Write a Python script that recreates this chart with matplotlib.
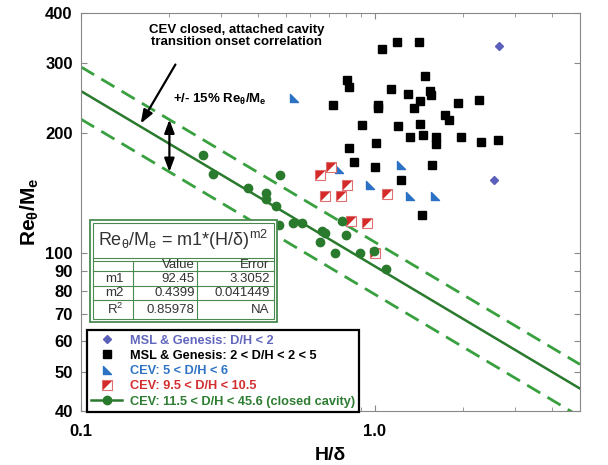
import numpy as np
import matplotlib.pyplot as plt
from matplotlib.lines import Line2D
from matplotlib.path import Path
from matplotlib.patches import Rectangle
from matplotlib.legend_handler import HandlerTuple
from matplotlib.ticker import LogLocator, NullFormatter, NullLocator

plt.rcParams['font.family'] = ['Liberation Sans', 'DejaVu Sans']
plt.rcParams['mathtext.default'] = 'regular'

# --- data ---
msl_lo_x = [2.66, 2.54]
msl_lo_y = [331, 152]

msl_x = [1.19, 1.42, 1.06, 1.48, 0.805, 0.816, 1.14, 1.30, 1.54, 1.56, 1.43, 0.724,
         1.03, 1.03, 1.36, 1.92, 2.26, 1.74, 1.79, 0.908, 1.20, 1.43, 1.46, 1.32,
         1.62, 1.62, 1.96, 2.31, 2.63, 0.816, 1.01, 0.850, 1.00, 1.57, 1.23, 1.45]
msl_y = [339, 339, 324, 277, 272, 261, 258, 250, 254, 249, 241, 235,
         235, 231, 231, 238, 242, 222, 215, 209, 208, 210, 198, 195,
         195, 187, 195, 190, 192, 183, 188, 169, 164, 166, 152, 124]

cev56_x = [0.755, 1.23, 0.962, 1.315, 1.60, 0.530]
cev56_y = [162, 166, 148, 139, 139, 245]

cev10_x = [0.712, 0.653, 0.807, 0.676, 0.770, 1.10, 0.833, 0.944, 1.006]
cev10_y = [164, 157, 148, 139, 139, 140, 120, 119, 100]

closed_x = [0.261, 0.282, 0.371, 0.426, 0.428, 0.461, 0.475, 0.472, 0.527, 0.566,
            0.662, 0.676, 0.650, 0.735, 0.776, 0.797, 0.889, 0.995, 1.096]
closed_y = [176, 158, 145, 141, 136, 131, 156.5, 117, 119, 119,
            113, 112, 106.4, 99.8, 120.4, 111, 99.8, 101.2, 91.1]

fit_m1 = 92.45
fit_m2 = 0.4399
band = 0.15

table_rows = ['m1', 'm2', 'R$^2$']
table_value = ['92.45', '0.4399', '0.85978']
table_error = ['3.3052', '0.041449', 'NA']

ytick_vals = [40, 50, 60, 70, 80, 90, 100, 200, 300, 400]

legend_labels = ['MSL & Genesis: D/H < 2',
                 'MSL & Genesis: 2 < D/H < 2 < 5',
                 'CEV: 5 < D/H < 6',
                 'CEV: 9.5 < D/H < 10.5',
                 'CEV: 11.5 < D/H < 45.6 (closed cavity)']

c_dia = '#5b60bb'
c_tri = '#2c72c4'
c_red = '#d42a2a'
c_green = '#2a7a2e'
c_dash = '#38a03e'
c_tab = '#4a8a4e'
legend_colors = ['#6266bd', 'black', '#2f74c4', '#d32f2f', '#2e7d32']

tri_marker = Path([(-1, 1), (-1, -1), (1, -1), (-1, 1)],
                  [Path.MOVETO, Path.LINETO, Path.LINETO, Path.CLOSEPOLY])
half_marker = Path([(-1, 1), (-1, -1), (1, 1), (-1, 1)],
                   [Path.MOVETO, Path.LINETO, Path.LINETO, Path.CLOSEPOLY])


def fit(x):
    return fit_m1 * np.power(x, -fit_m2)


fig = plt.figure(figsize=(6.08, 4.65), dpi=100)
ax = fig.add_axes([0.1332, 0.1161, 0.8207, 0.856])

xs = np.geomspace(0.1, 5, 200)
ax.plot(xs, fit(xs), color=c_green, lw=1.8, zorder=2)
ax.plot(xs, fit(xs) * (1 + band), color=c_dash, lw=2, ls=(0, (5.5, 3)), zorder=2)
ax.plot(xs, fit(xs) * (1 - band), color=c_dash, lw=2, ls=(0, (5.5, 3)), zorder=2)

ax.plot(msl_lo_x, msl_lo_y, ls='none', marker='D', ms=4, color=c_dia, zorder=3)
ax.plot(msl_x, msl_y, ls='none', marker='s', ms=6, color='black', zorder=3)
ax.plot(cev56_x, cev56_y, ls='none', marker=tri_marker, ms=6, color=c_tri, zorder=3)
ax.plot(cev10_x, cev10_y, ls='none', marker='s', ms=6.5, mfc='white', mec='#e07070',
        mew=0.8, zorder=3)
ax.plot(cev10_x, cev10_y, ls='none', marker=half_marker, ms=6.5, color=c_red, mew=0, zorder=3)
ax.plot(closed_x, closed_y, ls='none', marker='o', ms=6, color=c_green, zorder=4)

ax.set_xscale('log')
ax.set_yscale('log')
ax.set_xlim(0.1, 5)
ax.set_ylim(40, 400)
ax.set_xticks([0.1, 1.0])
ax.set_xticklabels(['0.1', '1.0'])
ax.xaxis.set_minor_locator(LogLocator(subs=range(2, 10)))
ax.xaxis.set_minor_formatter(NullFormatter())
ax.set_yticks(ytick_vals)
ax.set_yticklabels([str(v) for v in ytick_vals])
ax.yaxis.set_minor_locator(NullLocator())
ax.tick_params(which='both', direction='in', top=True, right=True, color='#888888',
               labelsize=12)
ax.tick_params(which='major', length=4)
ax.tick_params(which='minor', length=3)
ax.tick_params(axis='x', which='major', pad=9)
ax.tick_params(axis='y', which='major', pad=6)
for lab in ax.get_xticklabels() + ax.get_yticklabels():
    lab.set_fontweight('bold')
for sp in ax.spines.values():
    sp.set_color('#888888')

ax.set_xlabel('H/\u03b4', fontsize=14, fontweight='bold', labelpad=6)
ax.set_ylabel('Re$_\u03b8$/M$_e$', fontsize=15, fontweight='bold', labelpad=3)

# annotations
ax.text(0.3126, 0.943, 'CEV closed, attached cavity\ntransition onset correlation',
        transform=ax.transAxes, ha='center', va='center', fontsize=9.5,
        fontweight='bold', linespacing=1.0)
ax.annotate('', xy=(0.158, fit(0.158)), xytext=(0.212, 301),
            arrowprops=dict(arrowstyle='-|>,head_length=0.8,head_width=0.3',
                            color='black', lw=1.6))
ax.annotate('', xy=(0.2, fit(0.2) * (1 + band)), xytext=(0.2, fit(0.2) * (1 - band)),
            arrowprops=dict(arrowstyle='<|-|>,head_length=0.8,head_width=0.3',
                            color='black', lw=1.6, shrinkA=0, shrinkB=0))
ax.text(0.205, 243, '+/- 15% Re$_\u03b8$/M$_e$', ha='left', va='center',
        fontsize=9.5, fontweight='bold')

# fit table
tab = fig.add_axes([0.148, 0.3075, 0.3076, 0.2194])
tab.set_xlim(0, 1)
tab.set_ylim(0, 1)
tab.axis('off')
tab.add_patch(Rectangle((0, 0), 1, 1, facecolor='white', edgecolor=c_tab, lw=1.3,
                        transform=tab.transAxes, clip_on=False))
tab.add_patch(Rectangle((0.015, 0.025), 0.97, 0.95, facecolor='none', edgecolor=c_tab,
                        lw=0.8, transform=tab.transAxes, clip_on=False))
for yy in [0.627, 0.60, 0.5, 0.353, 0.216]:
    tab.plot([0.015, 0.985], [yy, yy], color=c_tab, lw=0.8)
for xx in [0.23, 0.572]:
    tab.plot([xx, xx], [0.025, 0.60], color=c_tab, lw=0.8)
tab.text(0.5, 0.80, 'Re$_\u03b8$/M$_e$ = m1*(H/\u03b4)$^{m2}$', ha='center', va='center',
         fontsize=13, color='#333333')
tab.text(0.56, 0.555, 'Value', ha='right', va='center', fontsize=9.5, color='#333333')
tab.text(0.96, 0.555, 'Error', ha='right', va='center', fontsize=9.5, color='#333333')
for yy, r, v, e in zip([0.425, 0.285, 0.12], table_rows, table_value, table_error):
    tab.text(0.18, yy, r, ha='right', va='center', fontsize=9.5, color='#333333')
    tab.text(0.56, yy, v, ha='right', va='center', fontsize=9.5, color='#333333')
    tab.text(0.96, yy, e, ha='right', va='center', fontsize=9.5, color='#333333')

# legend
handles = [
    Line2D([], [], ls='none', marker='D', ms=4, color=c_dia),
    Line2D([], [], ls='none', marker='s', ms=6, color='black'),
    Line2D([], [], ls='none', marker=tri_marker, ms=6, color=c_tri),
    (Line2D([], [], ls='none', marker='s', ms=6.5, mfc='white', mec='#e07070', mew=0.8),
     Line2D([], [], ls='none', marker=half_marker, ms=6.5, color=c_red, mew=0)),
    Line2D([], [], color=c_green, lw=1.8, marker='o', ms=6),
]
leg = fig.legend(handles, legend_labels, loc='lower left', bbox_to_anchor=(0.143, 0.114),
                 prop=dict(weight='bold', size=9.2), frameon=True, fancybox=False,
                 edgecolor='black', framealpha=1, handlelength=2.4, handletextpad=0.6,
                 borderpad=0.35, labelspacing=0.25, borderaxespad=0,
                 handler_map={tuple: HandlerTuple(ndivide=1)})
leg.get_frame().set_linewidth(1.6)
for t, c in zip(leg.get_texts(), legend_colors):
    t.set_color(c)

plt.savefig('out.png', dpi=100)
